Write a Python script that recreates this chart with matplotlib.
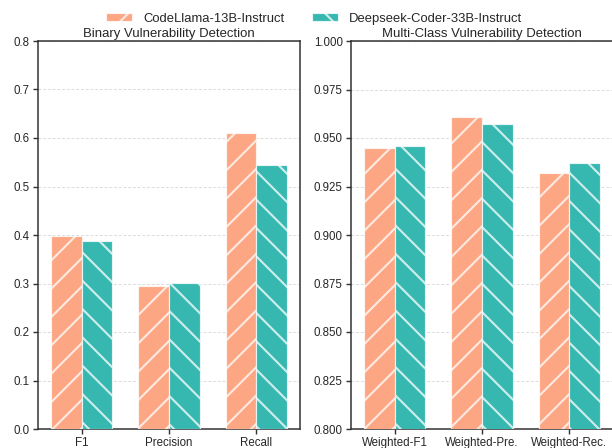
import numpy as np
import matplotlib
matplotlib.use("Agg")
import matplotlib.pyplot as plt
import seaborn as sns

sns.set_style("ticks")
plt.rcParams['font.family'] = ['Liberation Sans', 'DejaVu Sans']
plt.rcParams['hatch.linewidth'] = 0.9

# data
models = ['CodeLlama-13B-Instruct', 'Deepseek-Coder-33B-Instruct']
binary_metrics = ['F1', 'Precision', 'Recall']
binary_llama = [0.398, 0.295, 0.611]
binary_deepseek = [0.388, 0.301, 0.544]
multi_metrics = ['Weighted-F1', 'Weighted-Pre.', 'Weighted-Rec.']
multi_llama = [0.945, 0.961, 0.932]
multi_deepseek = [0.946, 0.957, 0.937]

colors = ['#FCA683', '#36B8B0']
hatches = ['//', '\\\\']
dpi = 170
fig = plt.figure(figsize=(612 / dpi, 448 / dpi), dpi=dpi)
ax1 = fig.add_axes([38 / 612, 1 - 429 / 448, 262 / 612, 388 / 448])
ax2 = fig.add_axes([351 / 612, 1 - 429 / 448, 262 / 612, 388 / 448])

w = 0.35
fs = 4.9

def draw(ax, metrics, a, b, ylim, yticks, title):
    x = np.arange(len(metrics))
    for i, vals in enumerate([a, b]):
        ax.bar(x + (i - 0.5) * w, vals, w, color=colors[i], edgecolor=(1, 1, 1, 0.75),
               hatch=hatches[i], linewidth=0.5, label=models[i], zorder=3)
    ax.set_xlim(-0.5, 2.5)
    ax.set_ylim(*ylim)
    ax.set_yticks(yticks)
    ax.set_xticks(x)
    ax.set_xticklabels(metrics, fontsize=fs)
    ax.tick_params(axis='y', labelsize=fs)
    ax.tick_params(width=0.6, length=2.2, pad=1.3, color='#333333')
    ax.grid(axis='y', linestyle=(0, (3, 2)), color='#dadada', linewidth=0.4, zorder=0)
    for s in ax.spines.values():
        s.set_linewidth(0.65)
        s.set_color('#333333')
    ax.set_title(title, fontsize=5.55, pad=1.5)

draw(ax1, binary_metrics, binary_llama, binary_deepseek, (0, 0.8),
     np.arange(0, 0.81, 0.1), 'Binary Vulnerability Detection')
ax1.set_yticklabels([f'{v:.1f}' for v in np.arange(0, 0.81, 0.1)])
draw(ax2, multi_metrics, multi_llama, multi_deepseek, (0.8, 1.0),
     np.arange(0.8, 1.0001, 0.025), 'Multi-Class Vulnerability Detection')
ax2.set_yticklabels([f'{v:.3f}' for v in np.arange(0.8, 1.0001, 0.025)])

handles, labels = ax1.get_legend_handles_labels()
fig.legend(handles, labels, loc='upper center', ncol=2, frameon=False,
           fontsize=5.5, bbox_to_anchor=(0.513, 0.998),
           handlelength=2.0, handleheight=0.6, handletextpad=0.85,
           columnspacing=2.1)

fig.savefig('out.png', dpi=dpi)
